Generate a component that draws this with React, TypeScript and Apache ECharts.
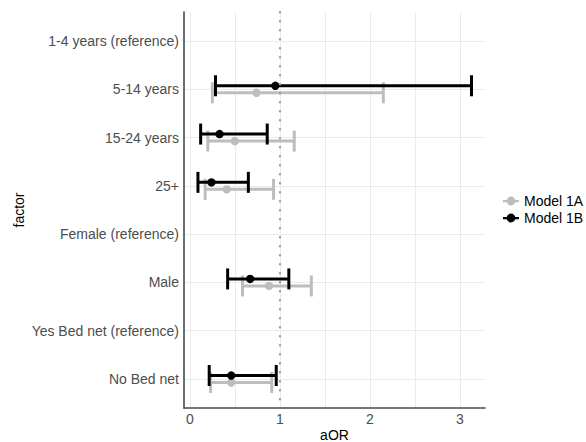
import React, { useEffect, useRef } from "react";
import * as echarts from "echarts";

const categories = [
  "1-4 years (reference)",
  "5-14 years",
  "15-24 years",
  "25+",
  "Female (reference)",
  "Male",
  "Yes Bed net (reference)",
  "No Bed net",
];
const model1A_est = [null, 0.74, 0.5, 0.41, null, 0.88, null, 0.46];
const model1A_low = [null, 0.25, 0.2, 0.17, null, 0.585, null, 0.23];
const model1A_high = [null, 2.15, 1.16, 0.93, null, 1.35, null, 0.91];
const model1B_est = [null, 0.95, 0.33, 0.24, null, 0.67, null, 0.46];
const model1B_low = [null, 0.285, 0.12, 0.09, null, 0.42, null, 0.215];
const model1B_high = [null, 3.13, 0.86, 0.65, null, 1.1, null, 0.96];
const xTicks = [0, 1, 2, 3];
const xGrid = [0, 0.5, 1, 1.5, 2, 2.5, 3];
const seriesNames = ["Model 1A", "Model 1B"];

const FONT = "Liberation Sans, Arial, Helvetica, sans-serif";

function rows(est: (number | null)[], lo: (number | null)[], hi: (number | null)[]) {
  const out: number[][] = [];
  est.forEach((e, i) => {
    if (e !== null && lo[i] !== null && hi[i] !== null) out.push([i, lo[i] as number, e, hi[i] as number]);
  });
  return out;
}

function makeRender(color: string, dy: number) {
  return (params: any, api: any) => {
    const y = api.value(0);
    const lo = api.coord([api.value(1), y]);
    const pt = api.coord([api.value(2), y]);
    const hi = api.coord([api.value(3), y]);
    const capH = 10.5;
    const st = { stroke: color, lineWidth: 3 };
    return {
      type: "group",
      children: [
        { type: "line", shape: { x1: lo[0], y1: lo[1] + dy, x2: hi[0], y2: hi[1] + dy }, style: st },
        { type: "line", shape: { x1: lo[0], y1: lo[1] + dy - capH, x2: lo[0], y2: lo[1] + dy + capH }, style: st },
        { type: "line", shape: { x1: hi[0], y1: hi[1] + dy - capH, x2: hi[0], y2: hi[1] + dy + capH }, style: st },
        { type: "circle", shape: { cx: pt[0], cy: pt[1] + dy, r: 4.2 }, style: { fill: color } },
      ],
    };
  };
}

const legendIcon = "path://M0 4H16V6.2H0Z M3.6 5A4.4 4.4 0 1 1 12.4 5A4.4 4.4 0 1 1 3.6 5Z";

export default function App() {
  const ref = useRef<HTMLDivElement>(null);
  useEffect(() => {
    document.body.style.margin = "0";
    const chart = echarts.init(ref.current!, null, { renderer: "svg" });
    const grey = "#bdbdbd";
    const black = "#000000";
    chart.setOption({
      animation: false,
      backgroundColor: "#ffffff",
      textStyle: { fontFamily: FONT },
      grid: { left: 184, right: 101, top: 12, bottom: 34, containLabel: false, outerBoundsMode: "none" },
      legend: {
        orient: "vertical",
        left: 503,
        top: 194,
        padding: 0,
        itemWidth: 16,
        itemHeight: 10,
        itemGap: 3,
        icon: legendIcon,
        data: seriesNames,
        textStyle: { fontFamily: FONT, fontSize: 14, color: "#000" },
      },
      xAxis: {
        type: "value",
        min: -0.065,
        max: 3.28,
        name: "aOR",
        nameLocation: "middle",
        nameGap: 20,
        nameMoveOverlap: false,
        nameTextStyle: { fontFamily: FONT, fontSize: 14, color: "#000" },
        axisLine: { show: true, onZero: false, lineStyle: { color: "#4a4a4a", width: 1.6 } },
        axisTick: { show: false, customValues: xGrid },
        axisLabel: {
          customValues: xTicks,
          color: "#4d4d4d",
          fontSize: 14,
          fontFamily: FONT,
          margin: 4,
          formatter: (v: number) => String(v),
        },
        splitLine: { show: true, lineStyle: { color: "#ebebeb", width: 1 } },
      },
      yAxis: {
        type: "value",
        inverse: true,
        min: -0.6,
        max: 7.6,
        name: "factor",
        nameLocation: "middle",
        nameGap: 158,
        nameMoveOverlap: false,
        nameRotate: 90,
        nameTextStyle: { fontFamily: FONT, fontSize: 14, color: "#000" },
        axisLine: { show: true, onZero: false, lineStyle: { color: "#4a4a4a", width: 1.6 } },
        axisTick: { show: false, customValues: categories.map((_, i) => i) },
        axisLabel: {
          customValues: categories.map((_, i) => i),
          color: "#4d4d4d",
          fontSize: 14,
          fontFamily: FONT,
          margin: 5,
          formatter: (v: number) => categories[Math.round(v)] ?? "",
        },
        splitLine: { show: true, lineStyle: { color: "#ebebeb", width: 1 } },
      },
      series: [
        {
          name: seriesNames[0],
          type: "custom",
          itemStyle: { color: grey },
          renderItem: makeRender(grey, 3.5),
          encode: { x: [1, 2, 3], y: 0 },
          data: rows(model1A_est, model1A_low, model1A_high),
          z: 3,
          markLine: {
            silent: true,
            symbol: "none",
            label: { show: false },
            lineStyle: { color: "#9a9a9a", type: [0.4, 8.6], width: 2.2, cap: "round" },
            data: [{ xAxis: 1 }],
          },
        },
        {
          name: seriesNames[1],
          type: "custom",
          itemStyle: { color: black },
          renderItem: makeRender(black, -3.5),
          encode: { x: [1, 2, 3], y: 0 },
          data: rows(model1B_est, model1B_low, model1B_high),
          z: 4,
        },
      ],
    });
    return () => chart.dispose();
  }, []);
  return <div ref={ref} style={{ width: 586, height: 442 }} />;
}
